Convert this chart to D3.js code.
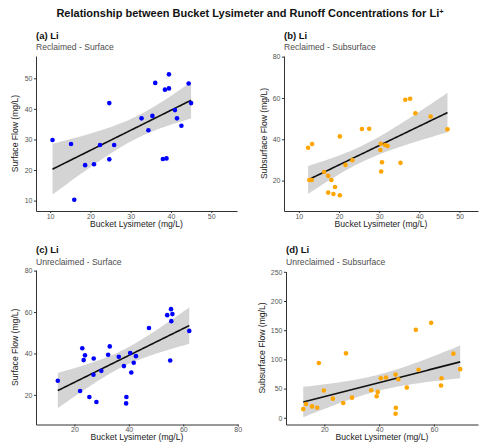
<!DOCTYPE html>
<html>
<head>
<meta charset="UTF-8">
<title>Li lysimeter vs runoff</title>
<style>
body { margin: 0; background: #fff; }
svg text { font-family: "Liberation Sans", Arial, sans-serif; }
.axis path.domain { stroke: #333; stroke-width: 1; }
.axis .tick line { stroke: #333; }
.axis .tick text { fill: #555; font-size: 7px; }
.ribbon { fill: #d4d4d4; }
.fit { fill: none; stroke: #111; stroke-width: 1.6px; }
</style>
</head>
<body>
<div id="chart"></div>
<script src="https://cdn.jsdelivr.net/npm/d3@7/dist/d3.min.js"></script>
<script>

// (a) reclaimed - surface
let recSurfX = [10.6, 15.2, 16.0, 18.7, 20.9, 22.4, 24.7, 24.7, 25.9, 32.7, 34.4, 35.4, 36.1, 38.5, 39.5, 39.5, 38.0, 38.9, 41.0, 41.5, 42.6, 44.4, 45.0];
let recSurfY = [29.8, 28.5, 10.3, 21.6, 21.9, 28.2, 41.9, 23.5, 28.2, 36.9, 33.0, 37.7, 48.5, 46.3, 46.7, 51.3, 23.6, 23.8, 39.6, 36.9, 34.5, 48.3, 41.9];

// (b) reclaimed - subsurface
let recSubX = [12.3, 13.3, 12.6, 13.2, 16.3, 17.3, 18.1, 19.0, 17.3, 18.6, 20.2, 20.2, 21.6, 23.3, 25.7, 27.5, 30.4, 30.3, 30.7, 30.5, 31.5, 32.1, 35.3, 36.5, 37.7, 39.0, 42.8, 47.0];
let recSubY = [35.9, 37.7, 20.3, 20.3, 24.2, 22.3, 20.3, 16.9, 14.2, 13.5, 12.9, 41.4, 27.6, 29.9, 45.0, 45.1, 37.8, 34.8, 28.9, 24.4, 37.2, 36.7, 28.6, 59.1, 59.6, 52.6, 51.0, 44.8];

// (c) unreclaimed - surface
let unrSurfX = [13.9, 22.1, 22.9, 23.4, 23.9, 25.5, 27.1, 27.0, 28.1, 29.9, 32.4, 33.0, 36.3, 38.2, 39.1, 39.0, 40.5, 40.9, 41.8, 42.6, 47.4, 54.1, 55.5, 56.0, 55.6, 55.2, 62.2];
let unrSurfY = [26.8, 21.9, 42.5, 36.8, 39.1, 19.0, 37.6, 29.7, 16.6, 31.6, 39.4, 43.4, 38.4, 33.9, 19.0, 15.9, 40.2, 30.8, 35.5, 38.7, 52.3, 58.5, 61.4, 59.0, 55.6, 36.6, 50.9];

// (d) unreclaimed - subsurface
let unrSubX = [12.3, 13.3, 15.5, 17.4, 18.0, 19.8, 23.1, 26.9, 27.9, 30.1, 37.1, 39.1, 39.5, 40.6, 42.5, 46.0, 47.0, 46.1, 46.0, 50.1, 53.4, 54.4, 59.0, 62.6, 62.8, 67.1, 69.6];
let unrSubY = [14.9, 23.6, 19.5, 17.2, 93.7, 46.6, 32.8, 25.3, 110.3, 34.5, 47.1, 36.8, 44.3, 67.8, 69.0, 74.1, 66.1, 17.2, 6.9, 51.7, 150.6, 82.2, 162.6, 55.2, 67.8, 109.8, 83.3];

let panelTags = ['(a) Li', '(b) Li', '(c) Li', '(d) Li'];
let panelSubtitles = ['Reclaimed - Surface', 'Reclaimed - Subsurface', 'Unreclaimed - Surface', 'Unreclaimed - Subsurface'];
let yTitles = ['Surface Flow (mg/L)', 'Subsurface Flow (mg/L)', 'Surface Flow (mg/L)', 'Subsurface Flow (mg/L)'];
let xTitle = 'Bucket Lysimeter (mg/L)';
let xTicks = [[10, 20, 30, 40, 50], [10, 20, 30, 40, 50], [20, 40, 60, 80], [20, 40, 60]];
let yTicks = [[10, 20, 30, 40, 50], [20, 40, 60, 80], [20, 40, 60, 80], [0, 50, 100, 150, 200, 250]];

let width = 479, height = 443;

let panels = [
    {x: recSurfX, y: recSurfY, color: '#0000ff', left: 36, right: 237, top: 56, bottom: 211, xd: [6.5, 56.4], yd: [6.6, 57.3], yTitleX: 15, titleY: 38.5},
    {x: recSubX, y: recSubY, color: '#ffa500', left: 284, right: 478, top: 56, bottom: 211, xd: [6.3, 54.6], yd: [5.3, 80.3], yTitleX: 264, titleY: 38.5},
    {x: unrSurfX, y: unrSurfY, color: '#0000ff', left: 36, right: 238, top: 270, bottom: 424.5, xd: [5.9, 80.1], yd: [5.7, 80.3], yTitleX: 15, titleY: 253},
    {x: unrSubX, y: unrSubY, color: '#ffa500', left: 286, right: 478, top: 271.5, bottom: 424.5, xd: [6.0, 76.1], yd: [-11.5, 250.5], yTitleX: 262, titleY: 253}
];

let svg = d3.select('#chart').append('svg')
    .attr('width', width)
    .attr('height', height);

let title = svg.append('text')
    .attr('x', 250)
    .attr('y', 17)
    .attr('text-anchor', 'middle')
    .style('font-weight', 'bold')
    .style('font-size', '11px')
    .style('fill', '#111')
    .text('Relationship between Bucket Lysimeter and Runoff Concentrations for Li');
title.append('tspan')
    .attr('dy', -3.5)
    .style('font-size', '7.5px')
    .text('+');

// 95% t quantile, Cornish-Fisher approximation
function tq(df) {
    let z = 1.959964;
    let g1 = (Math.pow(z, 3) + z) / 4;
    let g2 = (5 * Math.pow(z, 5) + 16 * Math.pow(z, 3) + 3 * z) / 96;
    let g3 = (3 * Math.pow(z, 7) + 19 * Math.pow(z, 5) + 17 * Math.pow(z, 3) - 15 * z) / 384;
    return z + g1 / df + g2 / (df * df) + g3 / (df * df * df);
}

function linFit(xs, ys) {
    let n = xs.length;
    let mx = d3.mean(xs), my = d3.mean(ys);
    let sxx = d3.sum(xs, d => (d - mx) * (d - mx));
    let sxy = d3.sum(xs, (d, i) => (d - mx) * (ys[i] - my));
    let b = sxy / sxx, a = my - b * mx;
    let rss = d3.sum(xs, (d, i) => Math.pow(ys[i] - (a + b * d), 2));
    let s = Math.sqrt(rss / (n - 2));
    let t = tq(n - 2);
    let lo = d3.min(xs), hi = d3.max(xs);
    let grid = d3.range(0, 81).map(k => lo + (hi - lo) * k / 80);
    return grid.map(x => {
        let fit = a + b * x;
        let se = s * Math.sqrt(1 / n + (x - mx) * (x - mx) / sxx);
        return {x: x, fit: fit, lo: fit - t * se, hi: fit + t * se};
    });
}

panels.forEach((p, i) => {
    let xScale = d3.scaleLinear().domain(p.xd).range([p.left, p.right]);
    let yScale = d3.scaleLinear().domain(p.yd).range([p.bottom, p.top]);

    let g = svg.append('g');

    // headings
    g.append('text')
        .attr('x', p.left)
        .attr('y', p.titleY)
        .style('font-weight', 'bold')
        .style('font-size', '9.5px')
        .style('fill', '#111')
        .text(panelTags[i]);
    g.append('text')
        .attr('x', p.left)
        .attr('y', p.titleY + 11.5)
        .style('font-size', '8.6px')
        .style('fill', '#4d4d4d')
        .text(panelSubtitles[i]);

    let fit = linFit(p.x, p.y);

    g.append('path')
        .attr('class', 'ribbon')
        .attr('d', d3.area()
            .x(d => xScale(d.x))
            .y0(d => yScale(d.lo))
            .y1(d => yScale(d.hi))(fit));

    g.append('path')
        .attr('class', 'fit')
        .attr('d', d3.line()
            .x(d => xScale(d.x))
            .y(d => yScale(d.fit))(fit));

    g.selectAll('circle.pt')
        .data(p.x.map((v, k) => [v, p.y[k]]))
        .enter()
        .append('circle')
        .attr('class', 'pt')
        .attr('cx', d => xScale(d[0]))
        .attr('cy', d => yScale(d[1]))
        .attr('r', 2.3)
        .style('fill', p.color);

    g.append('g')
        .attr('class', 'axis')
        .attr('transform', 'translate(0,' + p.bottom + ')')
        .call(d3.axisBottom(xScale).tickValues(xTicks[i]).tickSize(2).tickPadding(1).tickSizeOuter(0));

    g.append('g')
        .attr('class', 'axis')
        .attr('transform', 'translate(' + p.left + ',0)')
        .call(d3.axisLeft(yScale).tickValues(yTicks[i]).tickSize(2).tickPadding(1.5).tickSizeOuter(0));

    g.append('text')
        .attr('x', (p.left + p.right) / 2)
        .attr('y', p.bottom + 15.5)
        .attr('text-anchor', 'middle')
        .style('font-size', '8.6px')
        .style('fill', '#222')
        .text(xTitle);

    g.append('text')
        .attr('transform', 'translate(' + p.yTitleX + ',' + (p.top + p.bottom) / 2 + ') rotate(-90)')
        .attr('text-anchor', 'middle')
        .attr('dy', '0.35em')
        .style('font-size', '8.6px')
        .style('fill', '#222')
        .text(yTitles[i]);
});

</script>
</body>
</html>
